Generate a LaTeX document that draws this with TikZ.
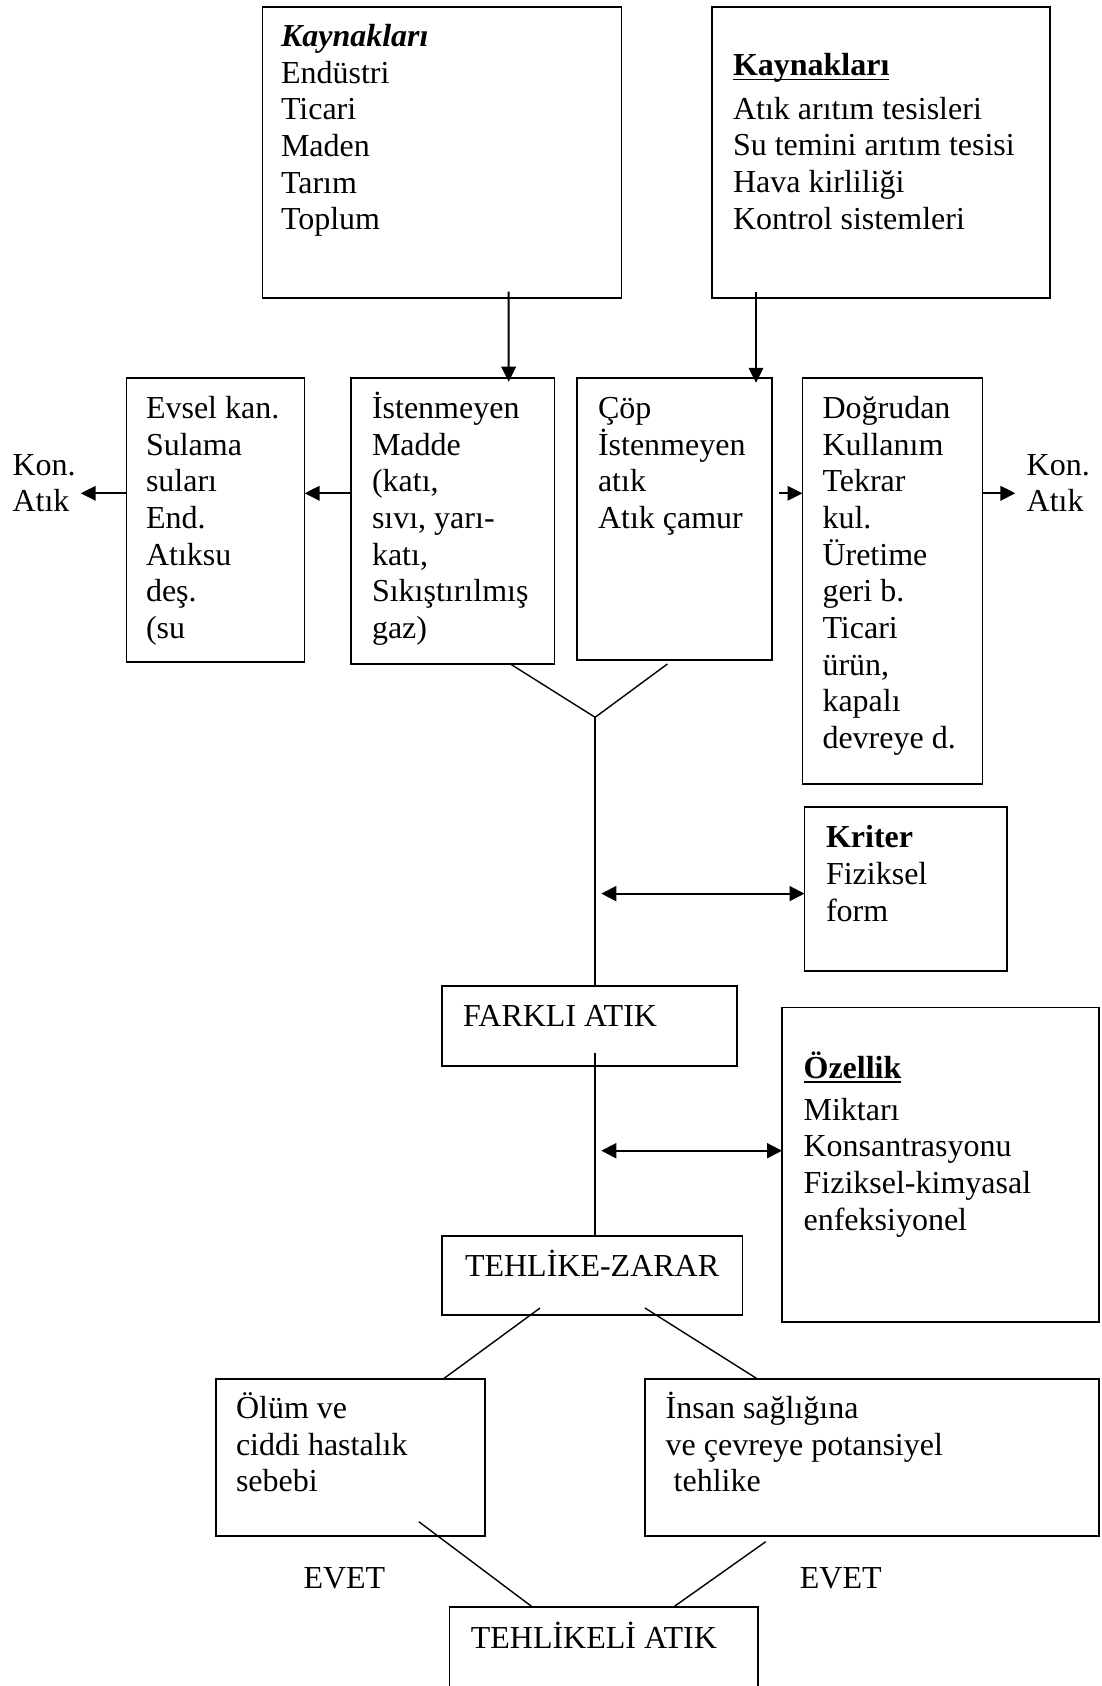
\documentclass[tikz,border=0pt]{standalone}
\usepackage{fontspec}
\setmainfont{Liberation Serif}
\usetikzlibrary{arrows.meta}
\newcommand\txtlines[1]{\vtop{\baselineskip=36.7pt\lineskiplimit=-1000pt\lineskip=0pt\halign{##\hfil\cr#1\crcr}}}
\newcommand\myul[1]{\setbox0=\hbox{#1}\rlap{\rule[-4.5pt]{\wd0}{1.6pt}}\box0}
\tikzset{
  box/.style={draw, line width=1.7pt, anchor=north west, inner sep=0pt, outer sep=0pt},
  txt/.style={anchor=base west, inner sep=0pt, outer sep=0pt, font=\fontsize{32}{36.7}\selectfont},
  ln/.style={line width=1.4pt},
  arr/.style={line width=1.9pt, -{Triangle[length=15pt,width=14.5pt]}},
  darr/.style={line width=1.9pt, {Triangle[length=15pt,width=15pt]}-{Triangle[length=15pt,width=15pt]}}
}
\begin{document}
\begin{tikzpicture}[x=1pt,y=-1pt]
\useasboundingbox (0,0) rectangle (1101,1686);
\clip (0,0) rectangle (1101,1686);
% boxes
\node[box, minimum width=359.1pt, minimum height=290.8pt] (A) at (262.4,7) {};
\node[box, minimum width=338pt, minimum height=290.8pt] (B) at (712,7) {};
\node[box, minimum width=178.1pt, minimum height=283.4pt] (Evsel) at (126.5,378.3) {};
\node[box, minimum width=203.4pt, minimum height=286pt] (Ist) at (351,378.3) {};
\node[box, minimum width=195pt, minimum height=281.7pt] (Cop) at (577,378.3) {};
\node[box, minimum width=180pt, minimum height=405.7pt] (Dog) at (802.5,378.3) {};
\node[box, minimum width=202.5pt, minimum height=164pt] (Kriter) at (804.5,807) {};
\node[box, minimum width=295pt, minimum height=79.7pt] (Farkli) at (442,986) {};
\node[box, minimum width=317pt, minimum height=314.3pt] (Ozellik) at (782,1007.5) {};
\node[box, minimum width=300.5pt, minimum height=79pt] (Tehlike) at (442,1236) {};
\node[box, minimum width=269.3pt, minimum height=156.4pt] (Olum) at (215.7,1379.3) {};
\node[box, minimum width=453.7pt, minimum height=156.4pt] (Insan) at (645.3,1379.3) {};
\node[box, minimum width=308.6pt, minimum height=100pt] (Tehlikeli) at (449.4,1606.7) {};
% texts
\node[txt] (tA) at (281,46.5) {\txtlines{\textbf{\textit{Kaynakları}}\cr Endüstri\cr Ticari\cr Maden\cr Tarım\cr Toplum}};
\node[txt] (tB) at (733,76) {\txtlines{\myul{\textbf{Kaynakları}}\cr\noalign{\vskip 6.5pt} Atık arıtım tesisleri\cr Su temini arıtım tesisi\cr Hava kirliliği\cr Kontrol sistemleri}};
\node[txt] (tEvsel) at (146,418.3) {\txtlines{Evsel kan.\cr Sulama\cr suları\cr End.\cr Atıksu\cr deş.\cr (su}};
\node[txt] (tIst) at (372,418.3) {\txtlines{İstenmeyen\cr Madde\cr (katı,\cr sıvı, yarı-\cr katı,\cr Sıkıştırılmış\cr gaz)}};
\node[txt] (tCop) at (598,418.3) {\txtlines{Çöp\cr İstenmeyen\cr atık\cr Atık çamur}};
\node[txt] (tDog) at (822.5,418.3) {\txtlines{Doğrudan\cr Kullanım\cr Tekrar\cr kul.\cr Üretime\cr geri b.\cr Ticari\cr ürün,\cr kapalı\cr devreye d.}};
\node[txt] (tKonL) at (12.6,475) {\txtlines{Kon.\cr Atık}};
\node[txt] (tKonR) at (1026.7,475) {\txtlines{Kon.\cr Atık}};
\node[txt] (tKriter) at (826,847.9) {\txtlines{\textbf{Kriter}\cr Fiziksel\cr form}};
\node[txt] (tFarkli) at (463,1026.4) {FARKLI ATIK};
\node[txt] (tOzellik) at (803.6,1078) {\txtlines{\myul{\textbf{Özellik}}\cr\noalign{\vskip 5.3pt} Miktarı\cr Konsantrasyonu\cr Fiziksel-kimyasal\cr enfeksiyonel}};
\node[txt] (tTehlike) at (465,1276.4) {TEHLİKE-ZARAR};
\node[txt] (tOlum) at (236,1418.3) {\txtlines{Ölüm ve\cr ciddi hastalık\cr sebebi}};
\node[txt] (tInsan) at (665.7,1418.3) {\txtlines{İnsan sağlığına\cr ve çevreye potansiyel\cr \ tehlike}};
\node[txt] (evet1) at (303.5,1588.3) {EVET};
\node[txt] (evet2) at (799.9,1588.3) {EVET};
\node[txt] (tTehlikeli) at (470.8,1648.3) {TEHLİKELİ ATIK};
% coordinates for free ends
\coordinate (konL) at (80.7,493.3);
\coordinate (konR) at (1015.4,493.3);
\coordinate (vtip) at (595.1,717.3);
\coordinate (k1) at (601.3,893.6);
\coordinate (o1) at (601.3,1150.7);
% connectors
\draw[arr] ([shift={(246.2,-6.1)}]A.south west) -- ([shift={(157.7,3.4)}]Ist.north west);
\draw[arr] ([shift={(44,-5.8)}]B.south west) -- ([shift={(179,4.5)}]Cop.north west);
\draw[arr] (konL -| Evsel.west) -- (konL);
\draw[arr] (konL -| Ist.west) -- (konL -| Evsel.east);
\draw[arr] ([xshift=7pt]konL -| Cop.east) -- (konL -| Dog.west);
\draw[arr] (konR -| Dog.east) -- (konR);
\draw[ln] ([shift={(159.9,0)}]Ist.south west) -- (vtip) -- ([shift={(90.4,4)}]Cop.south west);
\draw[ln] (vtip) -- (vtip |- Farkli.north);
\draw[darr] (k1) -- (k1 -| Kriter.west);
\draw[ln] ([shift={(153,-13.2)}]Farkli.south west) -- ([shift={(153,0)}]Tehlike.north west);
\draw[darr] (o1) -- (o1 -| Ozellik.west);
\draw[ln] ([shift={(98,-7)}]Tehlike.south west) -- ([shift={(227.1,0)}]Olum.north west);
\draw[ln] ([shift={(203,-7)}]Tehlike.south west) -- ([shift={(112.7,0)}]Insan.north west);
\draw[ln] ([shift={(203.1,-14)}]Olum.south west) -- ([shift={(82.6,0)}]Tehlikeli.north west);
\draw[ln] ([shift={(120.4,6)}]Insan.south west) -- ([shift={(224.5,0)}]Tehlikeli.north west);
\end{tikzpicture}
\end{document}
